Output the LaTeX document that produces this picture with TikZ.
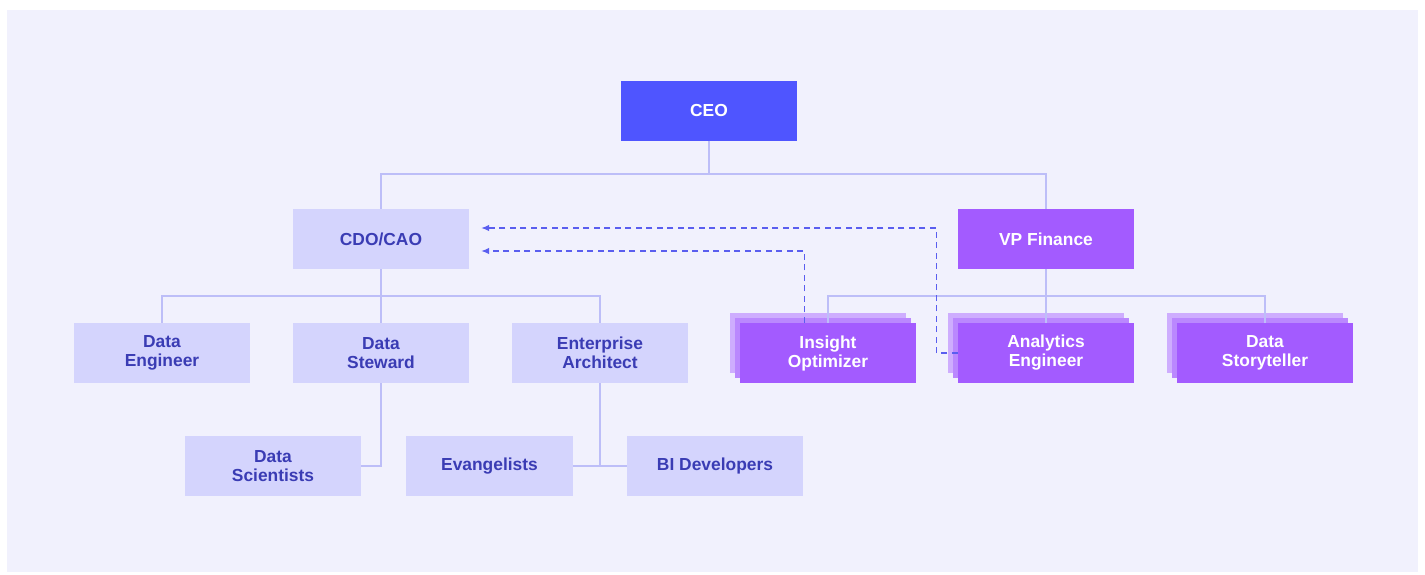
\documentclass[tikz,border=0pt]{standalone}
\usepackage{fontspec}
\setmainfont{Liberation Sans}
\usetikzlibrary{arrows.meta,calc}

\definecolor{canvas}{HTML}{F1F1FD}
\definecolor{lightbox}{HTML}{D4D4FD}
\definecolor{lighttext}{HTML}{3A3CB4}
\definecolor{ceoblue}{HTML}{4F55FF}
\definecolor{finpurple}{HTML}{A35BFF}
\definecolor{linkline}{HTML}{BDBEF8}
\definecolor{dashblue}{HTML}{5A5EEF}

\tikzset{
  rolebox/.style={minimum width=176pt, minimum height=60pt, inner sep=0pt,
    align=center, font=\bfseries\fontsize{17.4}{19}\selectfont},
  lightrole/.style={rolebox, fill=lightbox, text=lighttext},
  ceorole/.style={rolebox, fill=ceoblue, text=white},
  finrole/.style={rolebox, fill=finpurple, text=white},
  link/.style={draw=linkline, line width=1.4pt},
  dashlink/.style={draw=dashblue, line width=1.2pt, dash pattern=on 6pt off 4.5pt,
    -{Latex[length=8pt,width=6.5pt]}},
}

\begin{document}
\begin{tikzpicture}[x=1pt,y=-1pt]
  % page and canvas
  \useasboundingbox (0,0) rectangle (1425,574);
  \fill[white] (0,0) rectangle (1425,574);
  \fill[canvas] (7,10) rectangle (1418,572);

  % stacked layers behind the finance roles
  \foreach \cx in {828,1046,1265}{
    \fill[finpurple!45!canvas] (\cx-98,313) rectangle (\cx+78,373);
    \fill[finpurple!70!canvas] (\cx-93,318) rectangle (\cx+83,378);
  }

  % roles
  \node[ceorole]   (ceo)     at (709,110.5) {CEO};
  \node[lightrole] (cdo)     at (381,239) {CDO/CAO};
  \node[finrole]   (vp)      at (1046,239) {VP Finance};

  \node[lightrole] (deng)    at (162,353) {Data\\Engineer};
  \node[lightrole] (steward) at (381,353) {Data\\Steward};
  \node[lightrole] (arch)    at (600,353) {Enterprise\\Architect};

  \node[finrole]   (io)      at (828,353) {Insight\\Optimizer};
  \node[finrole]   (ae)      at (1046,353) {Analytics\\Engineer};
  \node[finrole]   (dst)     at (1265,353) {Data\\Storyteller};

  \node[lightrole] (sci)     at (273,466) {Data\\Scientists};
  \node[lightrole, minimum width=167pt] (evang) at (489.5,466) {Evangelists};
  \node[lightrole] (bi)      at (715,466) {BI Developers};

  % reporting lines
  \coordinate (busTop) at (709,174);
  \coordinate (busCdo) at (381,296);
  \coordinate (busFin) at (1046,296);
  \draw[link] (ceo.south) -- (ceo.south |- busTop);
  \draw[link] (cdo.north) |- (busTop -| vp.north) -- (vp.north);

  \draw[link] (cdo.south) -- (steward.north);
  \draw[link] (deng.north) |- (busCdo -| arch.north) -- (arch.north);

  \draw[link] (vp.south) -- (ae.north);
  \draw[link] (io.north) |- (busFin -| dst.north) -- (dst.north);

  \draw[link] (steward.south) |- (sci.east);
  \draw[link] (arch.south) -- (arch.south |- evang.east);
  \draw[link] (evang.east) -- (bi.west);

  % dotted-line reporting to the CDO/CAO
  \coordinate (ioTap)  at ($(io.north west)+(65,0)$);
  \coordinate (cdoInA) at ($(cdo.east)+(12,12)$);
  \coordinate (cdoInB) at ($(cdo.east)+(12,-11)$);
  \draw[dashlink] (ioTap) |- (cdoInA);
  \draw[dashlink] (ae.west) -- ++(-21,0) |- (cdoInB);
\end{tikzpicture}
\end{document}
